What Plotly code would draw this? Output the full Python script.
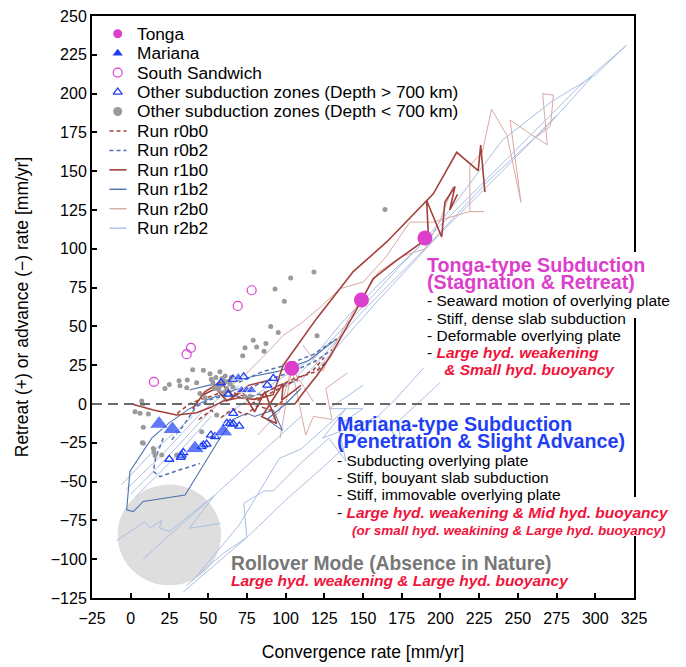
import plotly.graph_objects as go

# ---------------- observed subduction zones ----------------
tonga_conv = [104, 149, 190]
tonga_rate = [23, 67, 107]

mariana_conv = [18.3, 26.9, 41.5, 59.8, 69.5, 71.6, 75.0, 78.1]
mariana_rate = [-12.9, -16.3, -28.6, -17.8, 17.1, 8.9, 8.9, 8.9]
mariana_size = [17, 17, 17, 17, 10, 10, 10, 10]

sandwich_conv = [15.0, 36.1, 38.9, 69.1, 78.1]
sandwich_rate = [14.3, 32.1, 36.2, 63.2, 73.3]

deep_conv = [58.3, 63.0, 92.1, 88.2, 66.2, 62.0, 64.1, 66.2, 70.1, 51.8, 54.4,
             47.0, 49.0, 45.8, 34.0, 32.3, 32.9, 24.9, 73.0, 66.0]
deep_rate = [13.7, 6.4, 16.5, 12.2, -6.0, -12.5, -12.5, -12.9, -14.2, -20.0, -21.0,
             -26.4, -25.8, -27.5, -31.3, -34.3, -32.9, -35.6, 17.5, 16.0]

shallow_conv = [164.2, 118.3, 103.3, 93.2, 99.2, 120.3, 90.4, 95.3, 79.1, 81.3, 87.3,
                86.1, 73.8, 72.3, 40.0, 46.9, 51.2, 57.6, 31.2, 24.9, 22.1, 36.5,
                31.8, 36.2, 42.6, 44.7, 48.0, 53.0, 55.0, 58.0, 60.0, 62.0, 64.0,
                61.0, 57.0, 66.0, 54.0, 73.8, 77.0, 55.5, 7.1, 7.7, 2.8, 6.0, 11.4,
                8.1, 7.5, 14.6, 15.0, 15.7, 20.0, 29.7, 45.8, 53.3, 8.1,
                59.0, 63.0, 65.0, 56.0, 52.0, 60.5]
shallow_rate = [125.3, 85.1, 81.2, 74.1, 66.2, 43.9, 49.9, 46.0, 41.1, 36.8, 39.0,
                34.0, 36.2, 31.1, 22.0, 21.8, 19.5, 20.8, 15.0, 12.6, 10.0, 15.4,
                11.8, 10.5, 13.7, 6.8, 4.0, 14.0, 17.0, 12.0, 15.0, 10.0, 13.0,
                18.0, 9.0, 11.0, 10.0, 4.7, 5.0, -7.1, 1.9, -0.3, -5.0, -6.0, -6.5,
                -15.0, -24.9, -28.6, -30.7, -33.2, -32.9, -32.9, -17.8, -21.0, -25.3,
                16.5, 14.5, 17.0, 11.5, 16.0, 7.5]

# ---------------- model runs (convergence, retreat) paths ----------------
run_r0b0 = [
    [(30, -6), (38, 0), (45, 3), (52, 5), (62, 9), (70, 6), (80, 3), (88, 8), (96, 12),
     (106, 16.5), (114, 19), (120, 21), (126, 27)],
    [(44, -10), (52, -4), (58, -9), (66, -3), (74, -7), (82, -1), (90, -4), (98, 2)],
    [(78, 0), (92, 8), (104, 14), (118, 22), (125, 30)],
]
run_r0b2 = [
    [(21, -22), (16, -35), (14.6, -43.5), (18.9, -46.8), (30, -43), (44.7, -38.3)],
    [(26.5, -23), (34, -14), (42, -2), (52, 3), (62, 6), (74, 4), (86, 7), (96, 12), (108, 15)],
    [(70, 14), (85, 20.8), (100, 25), (118, 32), (133, 42)],
    [(76, 10), (90, 16), (105, 21), (120, 28), (130, 35)],
]
run_r1b0 = [
    [(0.6, 0), (14.6, -3.9), (29.7, -7.1), (42.6, -5.6), (52, -2), (60, 2), (70, 4), (80, 3),
     (88, 5), (92, 6), (98.5, 25), (120, 55), (143.7, 85.3), (165.3, 104.4), (195.4, 135.4),
     (210.5, 162.2), (224.4, 150.4), (226, 166.9), (228.7, 136.5)],
    [(68, 0), (106, 0), (112, 8), (120, 18), (128.7, 30.4), (141.5, 52.9), (149.1, 66.8),
     (156.6, 80.8), (171.7, 92.5), (186.8, 103.3), (192.1, 110.8), (191.1, 131.1),
     (196.4, 118.3), (200.8, 107.6), (202.9, 130.1), (209.4, 140.1), (206, 125), (211, 135)],
    [(45, 5), (55, 10), (62, 2), (72, 8), (80, -5), (86.7, 7.9), (94.3, -12.5), (84.6, -8.2),
     (98.5, 13.2), (97.5, 2.5), (110, 12)],
    [(40, -3), (48, 8), (58, 14), (66, 5), (76, 12), (88, 15)],
]
run_r1b2 = [
    [(70, 10), (50, 3), (38, -3), (25, -12), (13.6, -22), (-0.5, -43.5), (-2.6, -68.2),
     (1.7, -69.3), (8.1, -62.8), (35.1, -58.6), (57.6, -22.1), (66, -10), (75, -6), (80, -8),
     (92, -4), (98, -17), (88, -10), (100, 0), (110, 10)],
    [(38, 9), (50, 12), (65, 14), (80, 18), (95, 21), (115, 28), (133, 42)],
]
run_r2b0 = [
    [(60, 10), (70, 15), (80, 25), (90, 35), (98.5, 44.3), (110, 52), (122, 62), (135.1, 74.3),
     (150.2, 78.6), (165, 95), (180.3, 117.2), (195.4, 117.2), (219, 124), (228, 124),
     (219, 124), (219, 154), (227, 162), (233, 190), (243, 173), (252, 130), (245, 183),
     (258, 174), (269, 167), (266, 200), (273, 199), (271, 179), (262, 172)],
    [(82, -20), (96, -5), (104, 23), (113, -20), (118, -8), (130, -10), (126, 10), (140, 20)],
    [(96.5, -22), (104, 23), (118, 1.5)],
    [(111, 38), (124, 21), (130, 35), (141, 55), (160, 85), (175, 95), (190, 100), (200, 119),
     (208, 140)],
]
run_r2b2 = [
    [(-9, -88), (9, -76), (12.5, -80), (20, -75), (18.5, -80), (25, -82), (54, -59), (38, -80),
     (58, -77)],
    [(8, -100), (30, -80), (54, -59), (75, -40), (95, -22), (110, -8)],
    [(34, -121), (55, -103), (75, -86), (100, -62), (125, -40), (150, -17), (170, 2), (189, 23)],
    [(36, -117), (60, -96), (75, -86), (73, -64), (86, -56), (92, -56), (110, -38), (128, -22),
     (139, -37), (134, -14), (150, -3), (128, -3), (150, 12)],
    [(40, -114), (70, -78), (96, -35), (110, -29), (139, -3), (124, -22), (160, -8), (175, -25),
     (172, -12), (200, 14)],
    [(-3, -55), (20, -33), (47, -4), (65, 10)],
    [(0, -58), (22, -36), (50, -6), (70, 12)],
    [(3, -60), (25, -38), (52, -8)],
    [(-6, -52), (15, -30), (40, -8)],
    [(60, -8), (90, 12), (118, 30), (135, 51), (160, 77), (187, 102), (210, 130), (240, 170),
     (272, 195), (300, 212), (320, 231)],
    [(100, 10), (140, 52), (175, 90), (210, 125), (250, 165), (290, 205), (320, 231)],
    [(110, 15), (150, 60), (190, 100), (230, 143), (270, 180), (298, 211)],
    [(120, 22), (160, 67), (200, 110), (240, 150), (275, 186)],
]

legend_labels = ["Tonga", "Mariana", "South Sandwich",
                 "Other subduction zones (Depth > 700 km)",
                 "Other subduction zones (Depth < 700 km)",
                 "Run r0b0", "Run r0b2", "Run r1b0", "Run r1b2", "Run r2b0", "Run r2b2"]

# ---------------- styling ----------------
FONT = "Arial, Liberation Sans, Helvetica, sans-serif"
MAGENTA = "#dc3fcc"
BLUE = "#1f3ff5"
GRAY = "#9a9a9a"
BROWN = "#a3403a"
PINK = "#d9a9a6"
MIDBLUE = "#4f72b0"
LIGHTBLUE = "#a9bfe2"
RED = "#f0143c"

run_styles = {
    "Run r0b0": (run_r0b0, BROWN, 1.5, "4px,3px"),
    "Run r0b2": (run_r0b2, MIDBLUE, 1.5, "4px,3px"),
    "Run r1b0": (run_r1b0, BROWN, 1.6, "solid"),
    "Run r1b2": (run_r1b2, MIDBLUE, 1.1, "solid"),
    "Run r2b0": (run_r2b0, PINK, 1.0, "solid"),
    "Run r2b2": (run_r2b2, LIGHTBLUE, 1.0, "solid"),
}


def flatten(paths):
    xs, ys = [], []
    for seg in paths:
        for x, y in seg:
            xs.append(x)
            ys.append(y)
        xs.append(None)
        ys.append(None)
    return xs, ys


fig = go.Figure()

# model trajectories, lightest first
for name in ["Run r2b2", "Run r2b0", "Run r1b2", "Run r0b2", "Run r1b0", "Run r0b0"]:
    paths, color, width, dash = run_styles[name]
    xs, ys = flatten(paths)
    fig.add_trace(go.Scatter(x=xs, y=ys, mode="lines", name=name, showlegend=False,
                             line=dict(color=color, width=width, dash=dash)))

fig.add_trace(go.Scatter(x=shallow_conv, y=shallow_rate, mode="markers", showlegend=False,
                         name=legend_labels[4],
                         marker=dict(symbol="circle", size=5, color=GRAY)))
fig.add_trace(go.Scatter(x=deep_conv, y=deep_rate, mode="markers", showlegend=False,
                         name=legend_labels[3],
                         marker=dict(symbol="triangle-up-open", size=8, color=BLUE,
                                     line=dict(width=1.3, color=BLUE))))
fig.add_trace(go.Scatter(x=sandwich_conv, y=sandwich_rate, mode="markers", showlegend=False,
                         name=legend_labels[2],
                         marker=dict(symbol="circle-open", size=9, color=MAGENTA,
                                     line=dict(width=1.2, color=MAGENTA))))
fig.add_trace(go.Scatter(x=mariana_conv, y=mariana_rate, mode="markers", showlegend=False,
                         name=legend_labels[1],
                         marker=dict(symbol="triangle-up", size=mariana_size, color=BLUE)))
fig.add_trace(go.Scatter(x=tonga_conv, y=tonga_rate, mode="markers", showlegend=False,
                         name=legend_labels[0],
                         marker=dict(symbol="circle", size=15, color=MAGENTA)))

# ---------------- key (drawn on an overlay 0..1 frame) ----------------
PLOT_L, PLOT_T, PLOT_W, PLOT_H = 92, 16, 542, 582


def px_to_paper(px, py):
    return (px - PLOT_L) / PLOT_W, (PLOT_T + PLOT_H - py) / PLOT_H


key_markers = [
    dict(symbol="circle", size=9, color=MAGENTA),
    dict(symbol="triangle-up", size=9, color=BLUE),
    dict(symbol="circle-open", size=9, color=MAGENTA, line=dict(width=1.2, color=MAGENTA)),
    dict(symbol="triangle-up-open", size=8, color=BLUE, line=dict(width=1.2, color=BLUE)),
    dict(symbol="circle", size=9, color=GRAY),
]
for i, label in enumerate(legend_labels):
    py = 33.7 + 19.45 * i
    sx, sy = px_to_paper(117.7, py)
    if i < 5:
        fig.add_trace(go.Scatter(x=[sx], y=[sy], mode="markers", xaxis="x2", yaxis="y2",
                                 showlegend=False, hoverinfo="skip",
                                 marker=key_markers[i]))
    else:
        _, color, width, dash = run_styles[label]
        x0, _ = px_to_paper(109.5, py)
        x1, _ = px_to_paper(126.5, py)
        fig.add_trace(go.Scatter(x=[x0, x1], y=[sy, sy], mode="lines", xaxis="x2", yaxis="y2",
                                 showlegend=False, hoverinfo="skip",
                                 line=dict(color=color, width=max(width, 1.4), dash=dash)))
    tx, ty = px_to_paper(134.5, py)
    fig.add_annotation(x=tx, y=ty, xref="paper", yref="paper", xanchor="left",
                       yanchor="middle", showarrow=False, text=label,
                       font=dict(family=FONT, size=17.3, color="black"))


# ---------------- regime descriptions ----------------
NB = "\u00a0"


def span(s, size, color="black", bold=False, italic=False):
    if italic:
        s = f"<i>{s}</i>"
    if bold:
        s = f"<b>{s}</b>"
    return f"<span style='font-size:{size}px;color:{color}'>{s}</span>"


def block(lines, px, py_center, spacing):
    """Multi-line note; line pitch is set by the base font size."""
    x, y = px_to_paper(px - 2, py_center)
    fig.add_annotation(x=x, y=y, xref="paper", yref="paper", xanchor="left",
                       yanchor="middle", align="left", showarrow=False,
                       text="<br>".join(lines),
                       font=dict(family=FONT, size=spacing / 1.3, color="black"),
                       borderpad=0)


TITLE = 19.7
BODY = 15.5

block([
    span("Tonga-type Subduction", TITLE, MAGENTA, bold=True),
    span("(Stagnation &amp; Retreat)", TITLE, MAGENTA, bold=True),
    span("- Seaward motion of overlying plate", BODY),
    span("- Stiff, dense slab subduction", BODY),
    span("- Deformable overlying plate", BODY),
    span("- ", BODY) + span("Large hyd. weakening", BODY, RED, True, True),
    span(NB * 4 + "&amp; Small hyd. buoyancy", BODY, RED, True, True),
], 428, 316.5, 17.2)

block([
    span("Mariana-type Subduction", TITLE, BLUE, bold=True),
    span("(Penetration &amp; Slight Advance)", TITLE, BLUE, bold=True),
    span("- Subducting overlying plate", BODY),
    span("- Stiff, bouyant slab subduction", BODY),
    span("- Stiff, immovable overlying plate", BODY),
    span("- ", BODY) + span("Large hyd. weakening &amp; Mid hyd. buoyancy", BODY, RED, True, True),
    span(NB * 4 + "(or small hyd. weakining &amp; Large hyd. buoyancy)", 13.5, RED, True, True),
], 338, 475, 17.3)

block([
    span("Rollover Mode (Absence in Nature)", 19.3, "#777777", bold=True),
    span("Large hyd. weakening &amp; Large hyd. buoyancy", BODY, RED, True, True),
], 232, 571, 16.0)

# ---------------- shapes ----------------
fig.add_shape(type="circle", xref="x", yref="y", x0=-8.5, x1=58.3, y0=-116.8, y1=-51.8,
              fillcolor="#dedede", line=dict(width=0), layer="below")
fig.add_shape(type="line", xref="paper", yref="y", x0=0, x1=1, y0=0, y1=0,
              line=dict(color="#6a6a6a", width=2, dash="10px,6px"), layer="above")
# gaps in the right frame where the notes run across it
for top_px, bot_px in [(252, 318), (497, 536)]:
    _, ya = px_to_paper(0, top_px)
    _, yb = px_to_paper(0, bot_px)
    fig.add_shape(type="rect", xref="paper", yref="paper", x0=0.993, x1=1.008, y0=yb, y1=ya,
                  fillcolor="white", line=dict(width=0), layer="above")

axis_common = dict(showline=True, linecolor="black", linewidth=2, mirror=True,
                   ticks="inside", ticklen=5, tickwidth=1.5, tickcolor="black",
                   showgrid=False, zeroline=False, automargin=False,
                   tickfont=dict(family=FONT, size=16, color="black"))

fig.update_layout(
    width=686, height=667,
    margin=dict(l=PLOT_L, r=686 - PLOT_L - PLOT_W, t=PLOT_T, b=667 - PLOT_T - PLOT_H,
                autoexpand=False),
    paper_bgcolor="white", plot_bgcolor="white",
    showlegend=False,
    xaxis=dict(range=[-25, 325], dtick=25, tick0=0, ticklabelstandoff=5,
               title=dict(text="Convergence rate [mm/yr]",
                          font=dict(family=FONT, size=17.5, color="black"), standoff=20),
               **axis_common),
    yaxis=dict(range=[-125, 250], dtick=25, tick0=0,
               title=dict(text="Retreat (+) or advance (−) rate [mm/yr]",
                          font=dict(family=FONT, size=17.5, color="black"), standoff=18),
               **axis_common),
    xaxis2=dict(overlaying="x", anchor="y2", range=[0, 1], visible=False, fixedrange=True),
    yaxis2=dict(overlaying="y", anchor="x2", range=[0, 1], visible=False, fixedrange=True),
)

fig.write_html("out.html")
